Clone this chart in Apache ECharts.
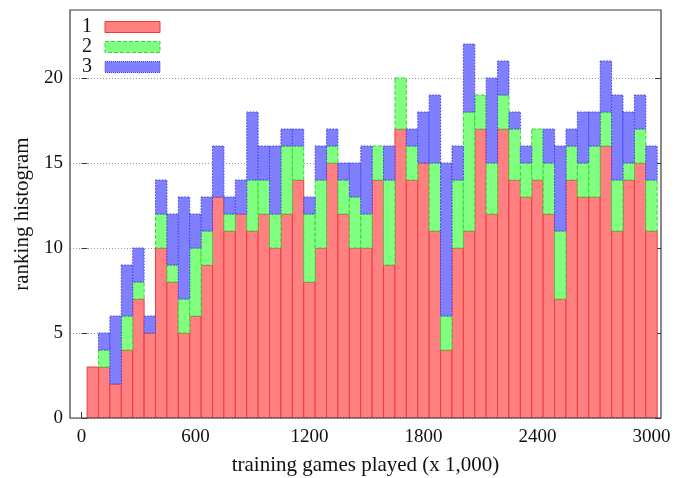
<!DOCTYPE html>
<html>
<head>
<meta charset="utf-8">
<script src="https://cdn.jsdelivr.net/npm/echarts@6/dist/echarts.min.js"></script>
<style>
  html, body { margin: 0; padding: 0; background: #fff; }
  #chart { width: 685px; height: 478px; }
</style>
</head>
<body>
<div id="chart"></div>
<script>
// Bin centres (thousands of training games), 60 wide each
const binCenters = [60,120,180,240,300,360,420,480,540,600,660,720,780,840,900,960,1020,1080,1140,1200,
  1260,1320,1380,1440,1500,1560,1620,1680,1740,1800,1860,1920,1980,2040,2100,2160,2220,2280,2340,2400,
  2460,2520,2580,2640,2700,2760,2820,2880,2940,3000];
const binWidth = 60;

// Counts per ranking, stacked 1 -> 2 -> 3
const rank1 = [3,3,2,4,7,5,10,8,5,6, 9,13,11,12,11,12,10,12,14,8, 10,15,12,10,10,14,9,17,14,15,
  11,4,10,11,17,12,17,14,13,14, 12,7,14,13,13,16,11,14,15,11];
const rank2 = [0,1,0,2,1,0,2,1,2,4, 2,0,1,0,3,2,2,4,2,4, 4,1,2,3,2,2,5,3,2,0,
  4,2,4,7,2,3,2,3,2,3, 3,4,2,2,3,2,3,1,2,3];
const rank3 = [0,1,4,3,2,1,2,3,6,2, 2,3,1,2,4,2,4,1,1,1, 2,1,1,2,4,0,2,0,1,3,
  4,9,2,4,0,5,2,1,1,0, 2,5,1,3,2,3,5,3,2,2];

const xTicks = [0, 600, 1200, 1800, 2400, 3000];
const yTicks = [0, 5, 10, 15, 20];

const FONT = 'Liberation Serif';
const FS = 19;
const NAME_FS = 21;

// Build [x, bottom, top] boxes for each stacked layer
function layer(values, below) {
  return binCenters.map((x, i) => {
    const base = below.reduce((s, arr) => s + arr[i], 0);
    return [x, base, base + values[i]];
  });
}

const styles = [
  { name: '1', data: layer(rank1, []), fill: '#ff8080', stroke: '#ee3c3c', dash: null, btype: 'solid' },
  { name: '2', data: layer(rank2, [rank1]), fill: '#80ff80', stroke: '#38d038', dash: [4, 2], btype: 'dashed' },
  { name: '3', data: layer(rank3, [rank1, rank2]), fill: '#8080ff', stroke: '#3a3ae6', dash: [1.5, 1.5], btype: 'dotted' }
];

function boxRenderer(st) {
  return function (params, api) {
    const x = api.value(0), y0 = api.value(1), y1 = api.value(2);
    if (y1 <= y0) return null;
    const p0 = api.coord([x - binWidth / 2, y0]);
    const p1 = api.coord([x + binWidth / 2, y1]);
    return {
      type: 'rect',
      shape: { x: p0[0], y: p1[1], width: p1[0] - p0[0], height: p0[1] - p1[1] },
      style: { fill: st.fill, stroke: st.stroke, lineWidth: 1, lineDash: st.dash }
    };
  };
}

const chart = echarts.init(document.getElementById('chart'), null, { renderer: 'canvas' });

chart.setOption({
  backgroundColor: '#fff',
  animation: false,
  grid: {
    left: 70, right: 24, top: 10, bottom: 60,
    outerBoundsMode: 'none', containLabel: false,
    show: true, borderColor: '#3a3a3a', borderWidth: 1.2, backgroundColor: 'transparent', z: 5
  },
  legend: {
    orient: 'vertical', left: 77, top: 12, align: 'right',
    itemWidth: 55, itemHeight: 11, itemGap: 0,
    textStyle: { fontFamily: FONT, fontSize: 20, lineHeight: 19, color: '#111', padding: [0, 8, 0, 0] },
    data: styles.map(st => ({
      name: st.name, icon: 'rect',
      itemStyle: { color: st.fill, borderColor: st.stroke, borderWidth: 1, borderType: st.btype }
    }))
  },
  xAxis: {
    type: 'value', min: -60, max: 3050,
    name: 'training games played (x 1,000)', nameLocation: 'middle', nameGap: 37,
    nameTextStyle: { fontFamily: FONT, fontSize: NAME_FS, color: '#111' },
    axisLine: { show: false },
    axisTick: { show: true, inside: true, length: 6, customValues: xTicks, lineStyle: { color: '#333' } },
    axisLabel: { customValues: xTicks, formatter: v => String(v), fontFamily: FONT, fontSize: FS, color: '#111', margin: 10 },
    splitLine: { show: false }
  },
  yAxis: [{
    type: 'value', min: 0, max: 24,
    name: 'ranking histogram', nameLocation: 'middle', nameGap: 37,
    nameTextStyle: { fontFamily: FONT, fontSize: NAME_FS, color: '#111' },
    axisLine: { show: false },
    axisTick: { show: true, inside: true, length: 6, customValues: yTicks, lineStyle: { color: '#333' } },
    axisLabel: { customValues: yTicks, fontFamily: FONT, fontSize: FS, color: '#111', margin: 7 },
    splitLine: { show: true, lineStyle: { color: '#9a9a9a', type: [1, 2], width: 1 } }
  }, {
    type: 'value', min: 0, max: 24, position: 'right',
    axisLine: { show: false },
    axisTick: { show: true, inside: true, length: 6, customValues: yTicks, lineStyle: { color: '#333' } },
    axisLabel: { show: false },
    splitLine: { show: false }
  }],
  series: styles.map(st => ({
    name: st.name,
    type: 'custom',
    renderItem: boxRenderer(st),
    encode: { x: 0, y: [1, 2] },
    itemStyle: { color: st.fill, borderColor: st.stroke },
    clip: true,
    data: st.data
  }))
});
</script>
</body>
</html>
